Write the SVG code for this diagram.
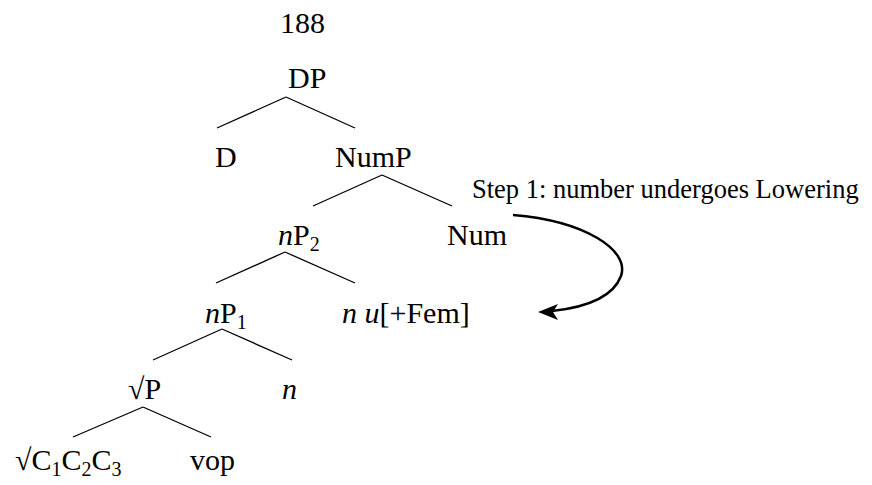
<svg xmlns="http://www.w3.org/2000/svg" width="872" height="485" viewBox="0 0 872 485">
<defs>
<style>
text{font-family:"Liberation Serif","Times New Roman",serif;font-size:30px;fill:#000}
.sub{font-size:20px}
.it{font-style:italic}
.step{font-size:26.5px}
.edge{stroke:#000;stroke-width:1.3;fill:none}
.move{stroke:#000;stroke-width:2.5;fill:none}
</style>
</defs>
<rect width="872" height="485" fill="#fff"/>
<text x="280" y="33">188</text>
<g id="connectors">
<line class="edge" x1="286" y1="97" x2="217" y2="128"/>
<line class="edge" x1="286" y1="97" x2="355" y2="128"/>
<line class="edge" x1="382" y1="175" x2="313" y2="206"/>
<line class="edge" x1="382" y1="175" x2="452" y2="206"/>
<line class="edge" x1="285" y1="252" x2="216" y2="283"/>
<line class="edge" x1="285" y1="252" x2="355" y2="283"/>
<line class="edge" x1="222" y1="329" x2="153" y2="360"/>
<line class="edge" x1="222" y1="329" x2="292" y2="360"/>
<line class="edge" x1="143" y1="407" x2="73" y2="437"/>
<line class="edge" x1="143" y1="407" x2="211" y2="437"/>
<path class="move" d="M513,215 C585,221 630,250 621,276 C612,300 580,308 552,311"/>
<path d="M538,312 L558,304 L553,312 L558,320 Z" fill="#000"/>
</g>
<g id="DP"><text x="288" y="88">DP</text></g>
<g id="D"><text x="215" y="166.5">D</text></g>
<g id="NumP"><text x="335" y="166.5">NumP</text></g>
<g id="nP2"><text x="278" y="245"><tspan class="it">n</tspan>P<tspan class="sub" dy="6">2</tspan></text></g>
<g id="Num"><text x="447" y="245">Num</text></g>
<g id="nP1"><text x="205" y="322.5"><tspan class="it">n</tspan>P<tspan class="sub" dy="6">1</tspan></text></g>
<g id="nuFem"><text x="342" y="322.5"><tspan class="it">n</tspan> <tspan class="it">u</tspan>[+Fem]</text></g>
<g id="rootP"><text x="128" y="398.5">√P</text></g>
<g id="n"><text x="282" y="398.5" class="it">n</text></g>
<g id="rootC"><text x="15" y="470">√C<tspan class="sub" dy="6">1</tspan><tspan dy="-6">C</tspan><tspan class="sub" dy="6">2</tspan><tspan dy="-6">C</tspan><tspan class="sub" dy="6">3</tspan></text></g>
<g id="vop"><text x="190" y="470">vop</text></g>
<g id="step"><text class="step" x="472" y="198">Step 1: number undergoes Lowering</text></g>
</svg>
